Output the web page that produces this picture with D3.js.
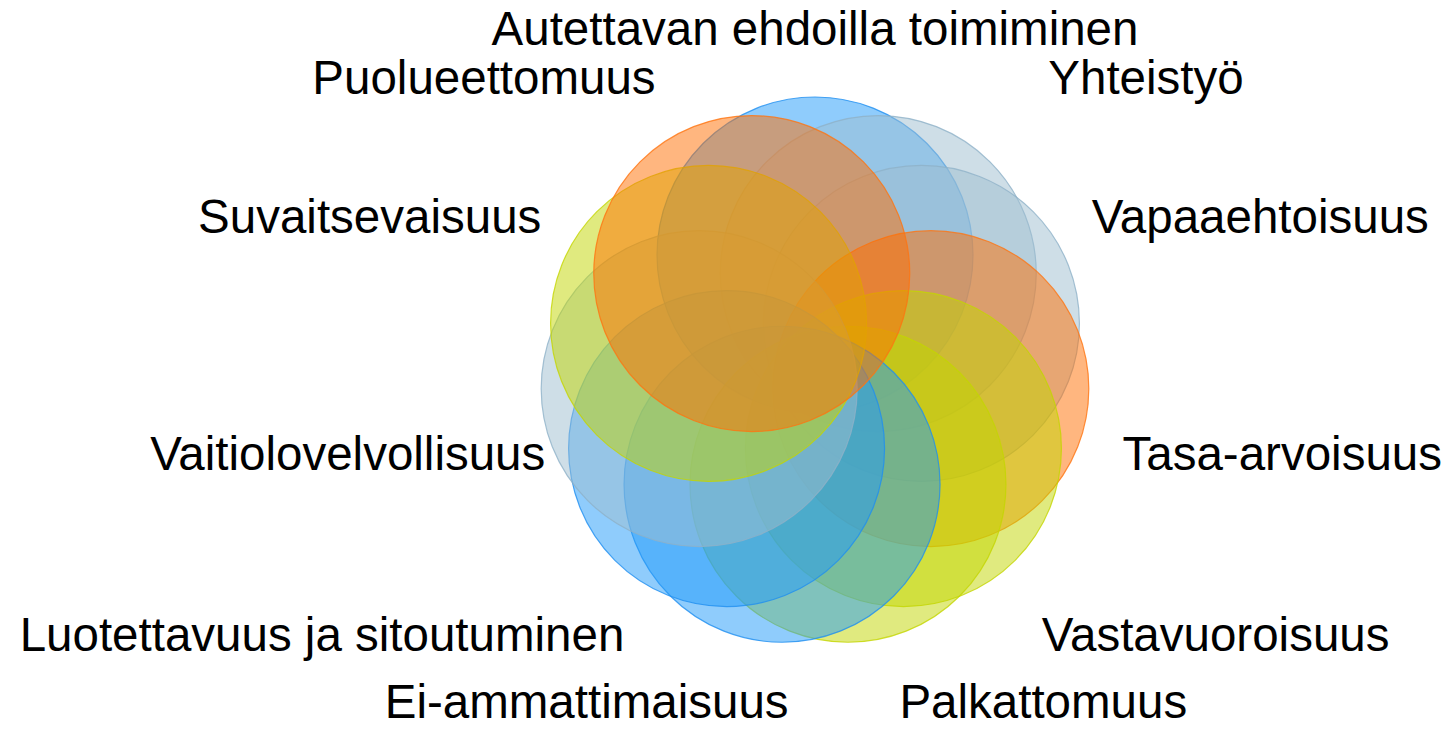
<!DOCTYPE html>
<html>
<head>
<meta charset="utf-8">
<script src="https://cdn.jsdelivr.net/npm/d3@7"></script>
<style>
  html, body { margin: 0; padding: 0; background: #fff; }
  .label { font-family: "Liberation Sans", Arial, sans-serif; font-size: 47.5px; fill: #000; }
</style>
</head>
<body>
<svg id="chart" width="1451" height="730"></svg>
<script>
// values, clockwise from the top
const labels = [
  "Autettavan ehdoilla toimiminen",
  "Yhteistyö",
  "Vapaaehtoisuus",
  "Tasa-arvoisuus",
  "Vastavuoroisuus",
  "Palkattomuus",
  "Ei-ammattimaisuus",
  "Luotettavuus ja sitoutuminen",
  "Vaitiolovelvollisuus",
  "Suvaitsevaisuus",
  "Puolueettomuus"
];
const colorKeys = ["blue", "gray", "gray", "orange", "lime", "lime", "blue", "blue", "gray", "lime", "orange"];

const palette = {
  blue:   { fill: "#1f99fa", stroke: "#1f8ff0" },
  gray:   { fill: "#9dbdcf", stroke: "#8fb2c8" },
  orange: { fill: "#ff6d00", stroke: "#ff7410" },
  lime:   { fill: "#c2d600", stroke: "#c4d600" }
};

const width = 1451, height = 730;
const ringX = 815, ringY = 372;   // centre of the circle ring
const orbit = 117, radius = 158;
const labelY = 385, labelRx = 470, labelRy = 357;
const boxWidth = 420;

const svg = d3.select("#chart");
const n = labels.length;
const angle = d3.scaleLinear().domain([0, n]).range([-Math.PI / 2, 3 * Math.PI / 2]);

const items = labels.map((name, i) => ({ name, i, color: palette[colorKeys[i]], a: angle(i) }));

//circles
svg.append("g")
  .selectAll("circle")
  .data(items)
  .join("circle")
  .attr("cx", d => ringX + orbit * Math.cos(d.a))
  .attr("cy", d => ringY + orbit * Math.sin(d.a))
  .attr("r", radius)
  .attr("fill", d => d.color.fill)
  .attr("fill-opacity", 0.5)
  .attr("stroke", d => d.color.stroke)
  .attr("stroke-opacity", 0.8)
  .attr("stroke-width", 1.2);

//labels
const sp = (v, p) => Math.sign(v) * Math.pow(Math.abs(v), p);
const capShift = 0.358 * 47.5;

const text = svg.append("g")
  .selectAll("text")
  .data(items)
  .join("text")
  .classed("label", true)
  .text(d => d.name);

text.each(function (d) {
  const w = this.getComputedTextLength();
  const c = Math.cos(d.a), s = Math.sin(d.a);
  const lx = ringX + labelRx * sp(c, 0.57);
  let midY = labelY + labelRy * sp(s, 0.85);
  midY = Math.max(28, Math.min(height - 12 - capShift, midY));
  let x = lx, anchor = "middle";
  if (Math.abs(c) > 0.01 && w > boxWidth) {
    if (c > 0) { x = lx - boxWidth / 2; anchor = "start"; }
    else { x = lx + boxWidth / 2; anchor = "end"; }
  }
  d3.select(this)
    .attr("x", x)
    .attr("y", midY + capShift)
    .attr("text-anchor", anchor);
});
</script>
</body>
</html>
